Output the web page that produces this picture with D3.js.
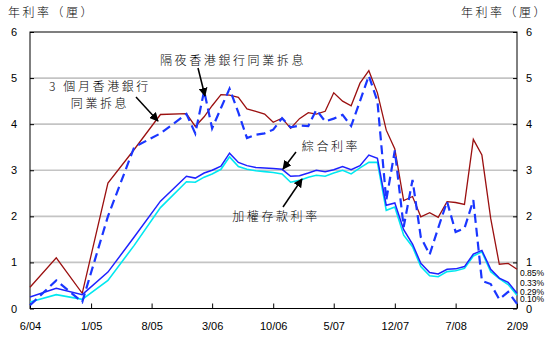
<!DOCTYPE html>
<html>
<head>
<meta charset="utf-8">
<script src="https://cdn.jsdelivr.net/npm/d3@7"></script>
<style>
  html, body { margin: 0; padding: 0; background: #fff; }
  svg { display: block; }
  .num { font-family: "Liberation Sans", Arial, sans-serif; font-size: 11px; fill: #000; }
  .cjk { font-family: "Noto Sans CJK TC", "Noto Sans CJK SC", sans-serif; fill: #000; font-weight: 300; }
</style>
</head>
<body>
<svg id="chart" width="550" height="340"></svg>
<script>
// Observation months: quarterly to late 2005, monthly afterwards
const months = [
  "2004-06","2004-09","2004-12","2005-03","2005-06","2005-09","2005-12",
  "2006-01","2006-02","2006-03","2006-04","2006-05","2006-06","2006-07","2006-08","2006-09","2006-10","2006-11","2006-12",
  "2007-01","2007-02","2007-03","2007-04","2007-05","2007-06","2007-07","2007-08","2007-09","2007-10","2007-11","2007-12",
  "2008-01","2008-02","2008-03","2008-04","2008-05","2008-06","2008-07","2008-08","2008-09","2008-10","2008-11","2008-12",
  "2009-01","2009-02"
];

// 3-month HIBOR (% p.a.)
const hibor3m = [
  0.46,1.10,0.33,2.72,3.45,4.21,4.23,
  3.95,4.16,4.40,4.64,4.63,4.58,4.33,4.28,4.22,4.04,4.13,3.91,
  4.12,4.25,4.22,4.28,4.68,4.50,4.40,4.89,5.16,4.68,3.87,3.46,
  2.34,2.43,1.99,2.08,1.98,2.32,2.30,2.26,3.67,3.33,1.95,0.96,
  0.98,0.85
];

// Overnight HIBOR (% p.a.)
const hiborON = [
  0.07,0.61,0.14,2.00,3.50,3.80,4.22,
  3.80,4.72,3.91,4.35,4.77,4.25,3.70,3.77,3.80,3.88,4.13,3.93,
  3.97,3.96,4.31,4.06,4.12,4.20,3.96,4.50,5.05,4.50,2.35,3.43,
  1.77,2.79,1.55,1.17,1.75,2.32,1.66,1.74,2.35,0.60,0.53,0.20,
  0.36,0.10
];

// Composite interest rate (% p.a.)
const composite = [
  0.25,0.44,0.30,0.79,1.55,2.33,2.87,
  2.83,2.94,3.00,3.09,3.37,3.17,3.10,3.06,3.05,3.04,3.02,2.87,
  2.88,2.94,3.00,2.97,3.01,3.08,3.01,3.10,3.33,3.26,2.24,2.29,
  1.71,1.40,0.98,0.78,0.75,0.85,0.86,0.91,1.18,1.26,0.85,0.66,
  0.57,0.33
];

// Weighted deposit rate (% p.a.)
const deposit = [
  0.14,0.30,0.20,0.61,1.37,2.19,2.75,
  2.74,2.85,2.92,3.02,3.29,3.08,3.02,2.99,2.97,2.95,2.92,2.74,
  2.78,2.85,2.89,2.87,2.94,3.00,2.92,3.05,3.17,3.17,2.13,2.20,
  1.59,1.34,0.91,0.71,0.69,0.80,0.82,0.87,1.14,1.23,0.80,0.65,
  0.52,0.29
];

const xTickMonths = ["2004-06","2005-01","2005-08","2006-03","2006-10","2007-05","2007-12","2008-07","2009-02"];
const xTickLabels = ["6/04","1/05","8/05","3/06","10/06","5/07","12/07","7/08","2/09"];
const yTicks = [0,1,2,3,4,5,6];
const axisTitle = "年利率（厘）";

const parse = d3.timeParse("%Y-%m");
const dates = months.map(parse);

const svg = d3.select("#chart");
const plotLeft = 30, plotRight = 517, plotTop = 32, plotBottom = 308.5;

const x = d3.scaleTime()
  .domain([parse("2004-06"), parse("2009-02")])
  .range([plotLeft, plotRight]);
const y = d3.scaleLinear().domain([0, 6]).range([plotBottom, plotTop]);

// horizontal grid
svg.append("g")
  .selectAll("line")
  .data(yTicks.filter(v => v > 0 && v < 6))
  .join("line")
  .attr("x1", plotLeft).attr("x2", plotRight)
  .attr("y1", d => y(d)).attr("y2", d => y(d))
  .attr("stroke", "#c4c4c4").attr("stroke-width", 1.6);

// axes
const tickDates = xTickMonths.map(parse);
const gx = svg.append("g").attr("transform", `translate(0,${plotBottom})`)
  .call(d3.axisBottom(x).tickValues(tickDates).tickSize(-5).tickPadding(14)
    .tickFormat((d, i) => xTickLabels[i]));
const gl = svg.append("g").attr("transform", `translate(${plotLeft},0)`)
  .call(d3.axisLeft(y).tickValues(yTicks).tickSize(-4).tickPadding(13).tickFormat(d3.format("d")));
const gr = svg.append("g").attr("transform", `translate(${plotRight},0)`)
  .call(d3.axisRight(y).tickValues(yTicks).tickSize(-4).tickPadding(9).tickFormat(d3.format("d")));
[gx, gl, gr].forEach(g => {
  g.attr("font-family", null).attr("font-size", null);
  g.select(".domain").remove();
  g.selectAll(".tick line").attr("stroke", "#000").attr("stroke-width", 1);
  g.selectAll(".tick text").attr("class", "num");
});

// plot frame
svg.append("rect")
  .attr("x", plotLeft).attr("y", plotTop)
  .attr("width", plotRight - plotLeft).attr("height", plotBottom - plotTop)
  .attr("fill", "none").attr("stroke", "#000").attr("stroke-width", 1);

// series
const line = d3.line().x((d, i) => x(dates[i])).y(d => y(d));
const series = [
  { values: hibor3m,   color: "#9b1010", width: 1.3, dash: null },
  { values: deposit,   color: "#00e8f0", width: 1.6, dash: null },
  { values: composite, color: "#1e22ff", width: 1.5, dash: null },
  { values: hiborON,   color: "#1a36ff", width: 2.2, dash: "9,5" }
];
svg.append("g")
  .selectAll("path")
  .data(series)
  .join("path")
  .attr("d", d => line(d.values))
  .attr("fill", "none")
  .attr("stroke", d => d.color)
  .attr("stroke-width", d => d.width)
  .attr("stroke-dasharray", d => d.dash)
  .attr("stroke-linejoin", "miter");

// end-of-period values, stacked to the right of the frame
const endSeries = [hibor3m, composite, deposit, hiborON];
const endLabelY = [273.5, 283, 292.5, 299.5];
svg.append("g")
  .selectAll("text")
  .data(endSeries)
  .join("text")
  .attr("class", "num")
  .style("font-size", "8.5px")
  .attr("x", plotRight + 3)
  .attr("y", (d, i) => endLabelY[i])
  .attr("dy", "0.35em")
  .text(d => d3.format(".2f")(d[d.length - 1]) + "%");

// axis titles
[[8, "start"], [548, "end"]].forEach(([tx, anchor]) => {
  svg.append("text").attr("class", "cjk")
    .attr("x", tx).attr("y", 17)
    .attr("text-anchor", anchor)
    .style("font-size", "12px")
    .style("letter-spacing", "2.5px")
    .text(axisTitle);
});

// annotations
const defs = svg.append("defs");
defs.append("marker")
  .attr("id", "head")
  .attr("viewBox", "0 0 10 10")
  .attr("refX", 9).attr("refY", 5)
  .attr("markerWidth", 6).attr("markerHeight", 6)
  .attr("orient", "auto")
  .append("path").attr("d", "M0,0 L10,5 L0,10 z").attr("fill", "#000");

const notes = [
  { lines: ["隔夜香港銀行同業拆息"], x: 233, y: 61, arrow: [198, 68, 205, 96] },
  { lines: ["3 個月香港銀行", "同業拆息"], x: 100, y: 87, arrow: [136, 97, 158, 121] },
  { lines: ["綜合利率"], x: 331, y: 147, arrow: [296, 152, 283, 169] },
  { lines: ["加權存款利率"], x: 276, y: 217, arrow: [283, 207, 302, 179] }
];
notes.forEach(n => {
  const t = svg.append("text").attr("class", "cjk")
    .attr("text-anchor", "middle")
    .style("font-size", "12px")
    .style("letter-spacing", "2.6px");
  n.lines.forEach((s, i) => {
    t.append("tspan").attr("x", n.x).attr("y", n.y + i * 16.5).attr("dy", "0.35em").text(s);
  });
  svg.append("line")
    .attr("x1", n.arrow[0]).attr("y1", n.arrow[1])
    .attr("x2", n.arrow[2]).attr("y2", n.arrow[3])
    .attr("stroke", "#000").attr("stroke-width", 1.5)
    .attr("marker-end", "url(#head)");
});
</script>
</body>
</html>
